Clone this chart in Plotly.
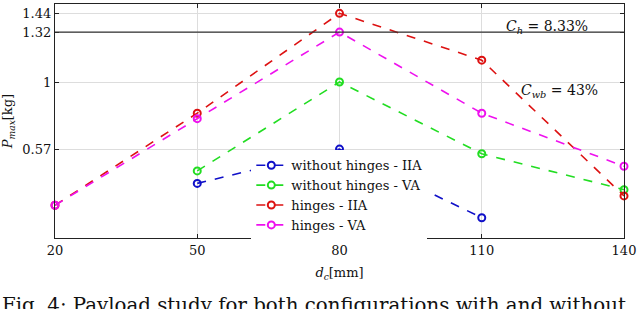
import plotly.graph_objects as go

x_all = [20, 50, 80, 110, 140]
x_wo = [50, 80, 110]
x_wo_va = [50, 80, 110, 140]

wo_iia = [0.35, 0.57, 0.13]
wo_va = [0.43, 1.00, 0.54, 0.31]
h_iia = [0.21, 0.80, 1.44, 1.14, 0.27]
h_va = [0.21, 0.765, 1.32, 0.80, 0.46]

names = ["without hinges - IIA", "without hinges - VA", "hinges - IIA", "hinges - VA"]
colors = ["#1010C8", "#22DD22", "#DD1111", "#EE11EE"]

ytickvals = [0.57, 1, 1.32, 1.44]
yticktext = ["0.57", "1", "1.32", "1.44"]
xtickvals = [20, 50, 80, 110, 140]

FONT = "DejaVu Serif"

fig = go.Figure()
series = [(x_wo, wo_iia), (x_wo_va, wo_va), (x_all, h_iia), (x_all, h_va)]
for (xs, ys), n, c in zip(series, names, colors):
    fig.add_trace(go.Scatter(
        x=xs, y=ys, name=n, mode="lines+markers", cliponaxis=False,
        line=dict(color=c, width=1.6, dash="dash"),
        marker=dict(symbol="circle-open", size=7, color=c, line=dict(width=2, color=c)),
    ))

fig.add_hline(y=1.32, line=dict(color="#333333", width=1.2))

fig.add_annotation(x=123.8, y=1.355, xref="x", yref="y", showarrow=False,
                   text="<i>C</i><sub><i>h</i></sub> = 8.33%",
                   font=dict(family=FONT, size=14, color="#111"))
fig.add_annotation(x=126.5, y=0.94, xref="x", yref="y", showarrow=False,
                   text="<i>C</i><sub><i>wb</i></sub> = 43%",
                   font=dict(family=FONT, size=14, color="#111"))

# caption (cut off at bottom, as in the reference)
fig.add_annotation(x=-55 / 569, y=(238 - 292) / 234, xref="paper", yref="paper", showarrow=False,
                   text="Fig. 4: Payload study for both configurations with and without",
                   xanchor="left", yanchor="top",
                   font=dict(family=FONT, size=19.8, color="#111"))

fig.update_layout(
    width=640, height=309,
    margin=dict(l=55, r=16, t=4, b=71),
    paper_bgcolor="white", plot_bgcolor="white",
    font=dict(family=FONT, size=13, color="#111"),
    showlegend=True,
    legend=dict(x=0.345, y=0.375, xanchor="left", yanchor="top",
                bgcolor="white", borderwidth=0, itemwidth=30,
                font=dict(family=FONT, size=13, color="#111"),
                tracegroupgap=0),
    xaxis=dict(range=[20, 140], tickvals=xtickvals, showgrid=True,
               gridcolor="#DDDDDD", gridwidth=1, zeroline=False,
               showline=True, linecolor="#222", linewidth=1.2, mirror="ticks",
               ticks="inside", ticklen=4, tickcolor="#222",
               title=dict(text="<i>d</i><sub><i>c</i></sub>[mm]", standoff=11,
                          font=dict(family=FONT, size=13))),
    yaxis=dict(range=[0, 1.5], tickvals=ytickvals, ticktext=yticktext,
               showgrid=True, gridcolor="#DDDDDD", gridwidth=1, zeroline=False,
               showline=True, linecolor="#222", linewidth=1.2, mirror="ticks",
               ticks="inside", ticklen=4, tickcolor="#222",
               title=dict(text="<i>P</i><sub><i>max</i></sub>[kg]", standoff=6,
                          font=dict(family=FONT, size=13))),
)

fig.add_shape(type="line", xref="paper", yref="paper",
              x0=(252 - 55) / 569, x1=(252 - 55) / 569,
              y0=(238 - 155) / 234, y1=(238 - 232) / 234,
              line=dict(color="#111", width=1.2))

fig.write_html("out.html", config={"displayModeBar": False},
               post_script="document.body.style.margin='0';")
